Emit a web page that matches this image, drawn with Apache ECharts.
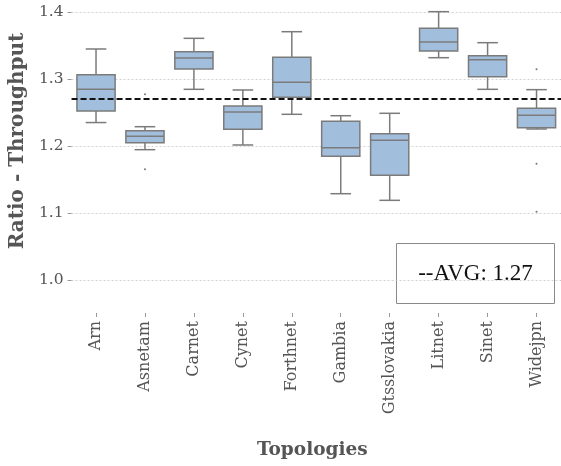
<!DOCTYPE html>
<html>
<head>
<meta charset="utf-8">
<script src="https://cdn.jsdelivr.net/npm/echarts@6/dist/echarts.min.js"></script>
<style>
html,body{margin:0;padding:0;background:#fff;}
#c{width:561px;height:466px;}
</style>
</head>
<body>
<div id="c"></div>
<script>
const categories = ['Arn','Asnetam','Carnet','Cynet','Forthnet','Gambia','Gtsslovakia','Litnet','Sinet','Widejpn'];
const whiskerLow  = [1.235, 1.1945, 1.2846, 1.2015, 1.2473, 1.1288, 1.1189, 1.3318, 1.2846, 1.2254];
const q1          = [1.2522, 1.2050, 1.3149, 1.2249, 1.2727, 1.1846, 1.1562, 1.3418, 1.3034, 1.2273];
const median      = [1.2846, 1.2145, 1.3313, 1.2507, 1.2951, 1.1975, 1.2085, 1.3552, 1.3288, 1.2458];
const q3          = [1.3064, 1.2228, 1.3408, 1.2597, 1.3324, 1.2369, 1.2184, 1.3756, 1.3348, 1.2563];
const whiskerHigh = [1.3448, 1.2288, 1.3607, 1.2836, 1.3706, 1.2452, 1.2488, 1.4005, 1.3542, 1.2841];
const outlierCats = ['Asnetam','Asnetam','Widejpn','Widejpn','Widejpn'];
const outlierVals = [1.2772, 1.1652, 1.3144, 1.1736, 1.1019];
const avgValue = 1.268;
const avgLabel = '--AVG: 1.27';
const yTicks = [1.0, 1.1, 1.2, 1.3, 1.4];

const boxData = categories.map((c, i) => [i, whiskerLow[i], q1[i], median[i], q3[i], whiskerHigh[i]]);
const outlierData = outlierCats.map((c, i) => [categories.indexOf(c), outlierVals[i]]);

const BOX_FILL = '#a2bedd';
const EDGE = '#7b7b7b';

function renderBox(params, api) {
  const idx = api.value(0);
  const band = api.size([1, 0])[0];
  const bw = band * 0.78;
  const cw = bw * 0.54;
  const pLo = api.coord([idx, api.value(1)]);
  const pQ1 = api.coord([idx, api.value(2)]);
  const pMed = api.coord([idx, api.value(3)]);
  const pQ3 = api.coord([idx, api.value(4)]);
  const pHi = api.coord([idx, api.value(5)]);
  const x = pMed[0];
  const ls = {stroke: EDGE, lineWidth: 1.5};
  return {
    type: 'group',
    children: [
      {type: 'line', shape: {x1: x, y1: pQ3[1], x2: x, y2: pHi[1]}, style: ls},
      {type: 'line', shape: {x1: x, y1: pQ1[1], x2: x, y2: pLo[1]}, style: ls},
      {type: 'line', shape: {x1: x - cw/2, y1: pHi[1], x2: x + cw/2, y2: pHi[1]}, style: ls},
      {type: 'line', shape: {x1: x - cw/2, y1: pLo[1], x2: x + cw/2, y2: pLo[1]}, style: ls},
      {type: 'rect', shape: {x: x - bw/2, y: pQ3[1], width: bw, height: pQ1[1] - pQ3[1]},
        style: {fill: BOX_FILL, stroke: EDGE, lineWidth: 1.5}},
      {type: 'line', shape: {x1: x - bw/2, y1: pMed[1], x2: x + bw/2, y2: pMed[1]}, style: ls}
    ]
  };
}

const chart = echarts.init(document.getElementById('c'), null, {renderer: 'canvas'});
chart.setOption({
  animation: false,
  backgroundColor: '#fff',
  grid: {left: 67, right: -4, top: 12, bottom: 186, containLabel: false},
  xAxis: {
    type: 'category',
    data: categories,
    offset: 33,
    axisLine: {show: false},
    axisTick: {show: true, alignWithLabel: true, length: 4, lineStyle: {color: '#999'}},
    axisLabel: {rotate: 90, margin: 8, fontFamily: 'DejaVu Serif', fontSize: 16, color: '#555', interval: 0},
    splitLine: {show: false},
    name: 'Topologies',
    nameLocation: 'middle',
    nameGap: 128,
    nameTextStyle: {fontFamily: 'DejaVu Serif', fontWeight: 'bold', fontSize: 18.5, color: '#555', padding: [0, 8, 0, 0]}
  },
  yAxis: {
    type: 'value',
    min: yTicks[0],
    max: yTicks[yTicks.length - 1],
    interval: 0.1,
    axisLine: {show: false},
    axisTick: {show: true, length: 4, lineStyle: {color: '#999'}},
    axisLabel: {margin: 8, fontFamily: 'DejaVu Serif', fontSize: 15.5, color: '#555',
      formatter: v => v.toFixed(1)},
    splitLine: {show: true, lineStyle: {color: '#c8c8c8', type: [2, 2], width: 0.8}},
    name: 'Ratio - Throughput',
    nameLocation: 'middle',
    nameGap: 42,
    nameTextStyle: {fontFamily: 'DejaVu Serif', fontWeight: 'bold', fontSize: 20, color: '#555', padding: [0, 0, 0, 10]}
  },
  series: [
    {
      type: 'custom',
      name: 'box',
      renderItem: renderBox,
      data: boxData,
      encode: {x: 0, y: [1, 2, 3, 4, 5]},
      z: 2
    },
    {
      type: 'scatter',
      name: 'outliers',
      data: outlierData,
      symbolSize: 2,
      itemStyle: {color: '#555'},
      z: 3
    },
    {
      type: 'line',
      name: 'avg',
      data: [],
      markLine: {
        silent: true,
        symbol: 'none',
        label: {show: false},
        lineStyle: {color: '#111', width: 2, type: [6, 3]},
        data: [{yAxis: avgValue}]
      },
      z: 4
    }
  ],
  graphic: [
    {
      type: 'group',
      left: 396,
      top: 243,
      z: 10,
      children: [
        {type: 'rect', shape: {x: 0, y: 0, width: 158, height: 60},
          style: {fill: '#fff', stroke: '#8a8a8a', lineWidth: 1}},
        {type: 'text', x: 79, y: 30,
          style: {text: avgLabel, fontFamily: 'Liberation Serif', fontSize: 23, fill: '#111',
            textAlign: 'center', textVerticalAlign: 'middle'}}
      ]
    }
  ]
});
</script>
</body>
</html>
